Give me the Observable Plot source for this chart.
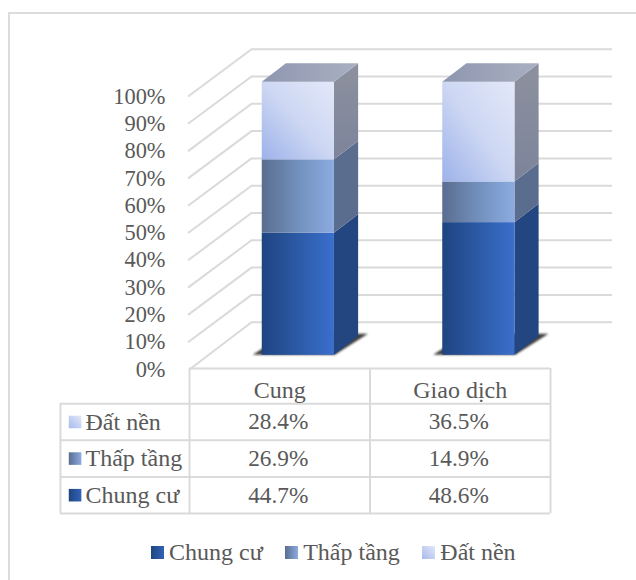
<!DOCTYPE html>
<html>
<head>
<meta charset="utf-8">
<script src="https://cdn.jsdelivr.net/npm/d3@7"></script>
<script src="https://cdn.jsdelivr.net/npm/@observablehq/plot@0.6"></script>
<style>
  html, body { margin: 0; padding: 0; background: #fff; }
  #chart { position: relative; width: 636px; height: 580px; overflow: hidden; font-family: "Liberation Serif", serif; color: #595959; }
  #chart svg { position: absolute; left: 0; overflow: visible; }
  .frame-top { position: absolute; left: 8px; top: 12px; right: 0; height: 2px; background: #dcdcdc; }
  .frame-left { position: absolute; left: 8px; top: 12px; bottom: 0; width: 2px; background: #dcdcdc; }
  #legend { position: absolute; left: 151px; top: 538px; display: flex; align-items: center; font-size: 24px; line-height: 28px; white-space: nowrap; }
  #legend i { display: block; width: 13px; height: 13px; margin-right: 5px; }
  #legend span { margin-right: 22.5px; }
</style>
</head>
<body>
<div id="chart">
  <div class="frame-top"></div>
  <div class="frame-left"></div>
  <div id="legend"></div>
</div>
<script>
// Shares of housing supply and transactions by product type
const categories = ["Cung", "Giao dịch"];
const seriesNames = ["Chung cư", "Thấp tầng", "Đất nền"];
const chungCu = [44.7, 48.6];
const thapTang = [26.9, 14.9];
const datNen = [28.4, 36.5];
const seriesValues = [chungCu, thapTang, datNen];
const percentTicks = [0, 10, 20, 30, 40, 50, 60, 70, 80, 90, 100];

// Oblique projection: depth 0 is the front edge of the floor, depth 1 the back wall.
const depthX = 0.3435;
const depthY = 17.33;
const barFront = 0.3;
const barBack = 0.69;
const barWidth = 0.4;
const px = (c, d) => c + d * depthX;
const py = (p, d) => p + d * depthY;

const textColor = "#595959";
const gridColor = "#dadada";
const fontFamily = "Liberation Serif, serif";
const axisFontSize = 22.4;
const labelFontSize = 24;
const valueFontSize = 23.3;

const gradients = [
  {id: "front0", x2: 1, y2: 0, stops: ["#1f4480", "#2c5aa6", "#3a6fcc"]},
  {id: "front1", x2: 1, y2: 0, stops: ["#5a6d8f", "#7290bd", "#8cabe0"]},
  {id: "front2", x1: 0, y1: 1, x2: 1, y2: 0, stops: ["#9db2ea", "#cdd7f3", "#e3e8f9"]},
  {id: "side2", x2: 0, y2: 1, stops: ["#8d919e", "#7d849b"]},
  {id: "roof", x2: 1, y2: 0, stops: ["#8e96b0", "#aab0c2"]},
  {id: "key0", x2: 1, y2: 0, stops: ["#1f4480", "#3263b8"]},
  {id: "key1", x2: 1, y2: 0, stops: ["#5a6d8f", "#8cabe0"]},
  {id: "key2", x1: 0, y1: 1, x2: 1, y2: 0, stops: ["#a7baec", "#e3e8f9"]}
];
const sideFill = ["#244680", "#5a6d8f", "url(#side2)"];

function gradientDefs() {
  const defs = d3.create("svg:defs");
  for (const g of gradients) {
    const lg = defs.append("linearGradient").attr("id", g.id)
      .attr("x1", g.x1 ?? 0).attr("y1", g.y1 ?? 0).attr("x2", g.x2).attr("y2", g.y2);
    g.stops.forEach((c, i) => lg.append("stop")
      .attr("offset", i / (g.stops.length - 1)).attr("stop-color", c));
  }
  return defs.node();
}

// Floor shadow, then for each stacked segment its side and front faces, then the roof.
function barMarks(catIndex) {
  const center = catIndex + 0.5;
  const x0 = px(center - barWidth / 2, barFront);
  const x1 = px(center + barWidth / 2, barFront);
  const dx = (barBack - barFront) * depthX;
  const dy = (barBack - barFront) * depthY;
  const base = py(0, barFront);
  const marks = [
    Plot.areaX(
      [{y: base, a: x0 - 0.05, b: x1 + 0.005}, {y: base + 7.7, a: x0 + 0.133, b: x1 + 0.188}],
      {y: "y", x1: "a", x2: "b", fill: "#3f3f3f", imageFilter: "blur(1px)"}
    )
  ];
  let cum = 0;
  seriesValues.forEach((values, s) => {
    const lo = base + cum;
    const hi = base + cum + values[catIndex];
    cum += values[catIndex];
    marks.push(Plot.areaY(
      [{x: x1, y1: lo, y2: hi}, {x: x1 + dx, y1: lo + dy, y2: hi + dy}],
      {x: "x", y1: "y1", y2: "y2", fill: sideFill[s]}
    ));
    marks.push(Plot.rect(
      [{x1: x0, x2: x1, y1: lo, y2: hi}],
      {x1: "x1", x2: "x2", y1: "y1", y2: "y2", fill: `url(#front${s})`}
    ));
  });
  const top = base + cum;
  marks.push(Plot.areaX(
    [{y: top, a: x0, b: x1}, {y: top + dy, a: x0 + dx, b: x1 + dx}],
    {y: "y", x1: "a", x2: "b", fill: "url(#roof)"}
  ));
  return marks;
}

const bars = Plot.plot({
  width: 636,
  height: 400,
  marginLeft: 189,
  marginRight: 86,
  marginTop: 96,
  marginBottom: 31,
  x: {domain: [0, 2], axis: null},
  y: {domain: [0, 100]},
  style: {background: "transparent", fontFamily, color: textColor},
  marks: [
    gradientDefs,
    Plot.axisY(percentTicks, {
      tickSize: 0, tickPadding: 24, tickFormat: d => `${d}%`, label: null,
      fontSize: axisFontSize, fill: textColor
    }),
    Plot.link(percentTicks, {
      x1: d => (d === 0 ? 0 : -0.008), y1: d => d,
      x2: px(0, 1), y2: d => py(d, 1),
      stroke: gridColor, strokeWidth: 2
    }),
    Plot.ruleY(percentTicks, {
      y: d => py(d, 1), x1: px(0, 1), x2: px(2, 1),
      stroke: gridColor, strokeWidth: 2
    }),
    ...categories.flatMap((_, i) => barMarks(i))
  ]
});
bars.style.top = "0px";

// Data table under the plot; the x scale lines up with the category columns above.
// The header row is slightly shorter than the body rows, hence tableTop.
const tableTop = 0.04;
const tableLeft = -0.715;
const labelX = -0.576;
const keyX = -0.634;
const rowOrder = [2, 1, 0];
const rowLines = [1, 2, 3, 4];
const columnLines = [0, 1, 2];

const tableCells = rowOrder.flatMap((s, r) =>
  categories.map((_, c) => ({col: c + 0.5, row: r + 1.5, label: `${seriesValues[s][c].toFixed(1)}%`}))
);
const rowHeads = rowOrder.map((s, r) => ({row: r + 1.5, label: seriesNames[s], key: s}));

const table = Plot.plot({
  width: 636,
  height: 160,
  marginLeft: 189,
  marginRight: 86,
  marginTop: 8,
  marginBottom: 7,
  x: {domain: [0, 2], axis: null},
  y: {domain: [tableTop, 4], reverse: true, axis: null},
  style: {background: "transparent", fontFamily, color: textColor},
  marks: [
    Plot.ruleY([tableTop], {y: d => d, x1: 0, x2: 2, stroke: gridColor, strokeWidth: 2}),
    Plot.ruleY(rowLines, {y: d => d, x1: tableLeft, x2: 2, stroke: gridColor, strokeWidth: 2}),
    Plot.ruleX(columnLines, {x: d => d, y1: tableTop, y2: 4, stroke: gridColor, strokeWidth: 2}),
    Plot.ruleX([tableLeft], {x: d => d, y1: 1, y2: 4, stroke: gridColor, strokeWidth: 2}),
    Plot.text(categories, {
      x: (_, i) => i + 0.5, y: 0.5, dy: 5, text: d => d,
      fontSize: labelFontSize, fill: textColor
    }),
    Plot.text(tableCells, {x: "col", y: "row", dx: -1.5, text: "label", fontSize: valueFontSize, fill: textColor}),
    Plot.text(rowHeads, {
      x: labelX, y: "row", text: "label", textAnchor: "start",
      fontSize: labelFontSize, fill: textColor
    }),
    ...rowHeads.map(h => Plot.dot([h], {
      x: keyX, y: "row", symbol: "square", r: 7.1, fill: `url(#key${h.key})`
    }))
  ]
});
table.style.top = "360px";

const chart = document.getElementById("chart");
chart.prepend(bars);
chart.insertBefore(table, bars.nextSibling);

// Legend below the table, with the same key gradients written as CSS.
const cssKeys = [
  "linear-gradient(to right, #1f4480, #3263b8)",
  "linear-gradient(to right, #5a6d8f, #8cabe0)",
  "linear-gradient(to top right, #a7baec, #e3e8f9)"
];
const legend = d3.select("#legend");
seriesNames.forEach((name, i) => {
  legend.append("i").style("background", cssKeys[i]);
  legend.append("span").text(name);
});
</script>
</body>
</html>
